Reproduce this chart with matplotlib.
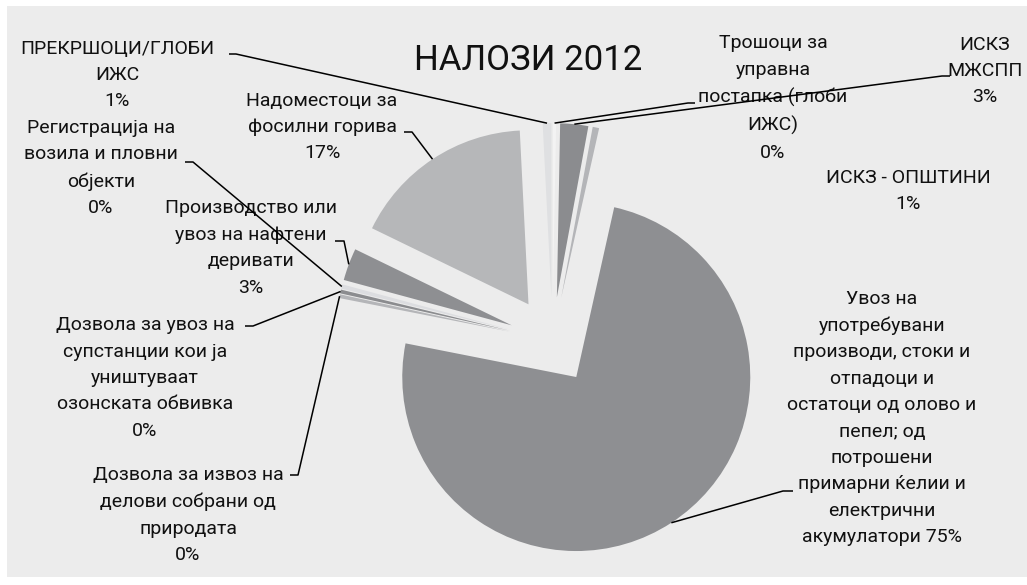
import numpy as np
import matplotlib.pyplot as plt
from matplotlib.patches import Rectangle

plt.rcParams["font.family"] = "Roboto"

# %%
# slices in drawing order, clockwise from 12 o'clock
names = [
    "Трошоци за\nуправна\nпостапка (глоби\nИЖС)",
    "ИСКЗ\nМЖСПП",
    "ИСКЗ - ОПШТИНИ",
    "Увоз на\nупотребувани\nпроизводи, стоки и\nотпадоци и\nостатоци од олово и\nпепел; од\nпотрошени\nпримарни ќелии и\nелектрични\nакумулатори",
    "Дозвола за извоз на\nделови собрани од\nприродата",
    "Дозвола за увоз на\nсупстанции кои ја\nуништуваат\nозонската обвивка",
    "Регистрација на\nвозила и пловни\nобјекти",
    "Производство или\nувоз на нафтени\nдеривати",
    "Надоместоци за\nфосилни горива",
    "ПРЕКРШОЦИ/ГЛОБИ\nИЖС",
]
shares = [0.3, 2.6, 0.6, 74.6, 0.35, 0.35, 0.4, 3.0, 17.0, 0.8]
colors = [
    "#f3f3f3", "#8b8c8f", "#b4b5b8", "#8e8f92", "#b4b5b8",
    "#8b8c8f", "#dcdde0", "#8e8f92", "#b6b7b9", "#dfe0e2",
]

# label layout in pixels: text centre, leader stub (start, end) or None
label_xy = [(773, 98), (985, 71), (908, 191), (882, 418), (188, 515),
            (145, 378), (101, 168), (251, 248), (322, 127), (117, 75)]
stubs = [
    ((695, 103), (688, 103)),
    ((950, 76), (942, 76)),
    None,
    ((793, 491), (783, 491)),
    ((290, 475), (298, 475)),
    ((245, 326), (253, 326)),
    ((185, 162), (193, 162)),
    ((335, 241), (344, 241)),
    ((404, 132), (412, 132)),
    ((229, 54), (236, 54)),
]

W, H = 1027, 585
cx, cy, R = 552.5, 340.6, 174.0


def px(x, y):
    # pixel position -> data units (pie radius = 1)
    return (x - cx) / R, (cy - y) / R


fig = plt.figure(figsize=(W / 100, H / 100), dpi=100, facecolor="white")
fig.add_artist(
    Rectangle((7 / W, 8 / H), 1020 / W, 571 / H, transform=fig.transFigure,
              facecolor="#ececec", edgecolor="none", zorder=-10)
)
ax = fig.add_axes([0, 0, 1, 1])

wedges, _ = ax.pie(
    shares,
    colors=colors,
    explode=[0.25] * len(shares),
    startangle=90,
    counterclock=False,
    radius=1,
    wedgeprops=dict(linewidth=0),
)

ax.set_aspect("auto")
ax.set_xlim(px(0, 0)[0], px(W, 0)[0])
ax.set_ylim(px(0, H)[1], px(0, 0)[1])
ax.axis("off")

total = sum(shares)
for i, w in enumerate(wedges):
    pct = f"{shares[i] / total * 100:.0f}%"
    sep = " " if i == 3 else "\n"
    tx, ty = px(*label_xy[i])
    ax.text(tx, ty, names[i] + sep + pct, ha="center", va="center",
            fontsize=14, linespacing=1.6, color="#111111")

    if stubs[i] is None:
        continue
    # leader goes to the middle of the slice's outer arc
    mid = np.deg2rad((w.theta1 + w.theta2) / 2)
    ex = w.center[0] + w.r * np.cos(mid)
    ey = w.center[1] + w.r * np.sin(mid)
    (x0, y0), (x1, y1) = px(*stubs[i][0]), px(*stubs[i][1])
    ax.plot([x0, x1, ex], [y0, y1, ey], color="black", lw=1.1,
            solid_capstyle="butt", zorder=5)

ax.text(*px(528, 61), "НАЛОЗИ 2012", ha="center", va="center",
        fontsize=25, color="#111111")

fig.savefig("out.png", dpi=100, facecolor=fig.get_facecolor())
